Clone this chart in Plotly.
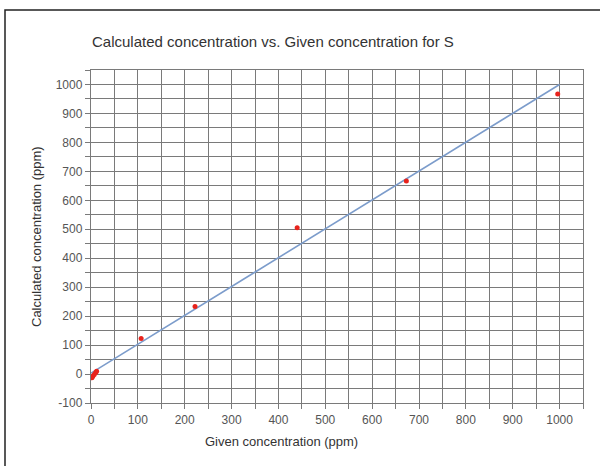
import plotly.graph_objects as go

# Data
given = [2, 4, 7, 10, 12, 107, 222, 440, 673, 996]
calculated = [-13, -8, -2, 5, 10, 123, 233, 505, 667, 967]
fit_x = [0, 1000]
fit_y = [3, 1000]

x_tick_vals = [0, 100, 200, 300, 400, 500, 600, 700, 800, 900, 1000]
x_tick_text = ["0", "100", "200", "300", "400", "500", "600", "700", "800", "900", "1000"]
y_tick_vals = [-100, 0, 100, 200, 300, 400, 500, 600, 700, 800, 900, 1000]
y_tick_text = ["-100", "0", "100", "200", "300", "400", "500", "600", "700", "800", "900", "1000"]

title_text = "Calculated concentration vs. Given concentration for S"
x_title = "Given concentration (ppm)"
y_title = "Calculated concentration (ppm)"

W, H = 600, 466
L, R, T, B = 91, 17, 70, 63
pw, ph = W - L - R, H - T - B

def px(x):
    return (x - L) / pw

def py(y):
    return (H - B - y) / ph

grid_col = "#7a7a7a"
gw = 1.4

fig = go.Figure()
fig.add_trace(go.Scatter(x=fit_x, y=fit_y, mode="lines",
                         line=dict(color="#7c9ccb", width=1.6),
                         hoverinfo="skip", showlegend=False))
fig.add_trace(go.Scatter(x=given, y=calculated, mode="markers",
                         marker=dict(color="#e8231c", size=5),
                         showlegend=False))

axis_common = dict(
    showline=True, linecolor=grid_col, linewidth=gw, mirror=True,
    showgrid=True, gridcolor=grid_col, gridwidth=gw,
    zeroline=False, ticks="outside", ticklen=5, tickcolor=grid_col, tickwidth=gw,
    tickfont=dict(family="Liberation Sans, Arial", size=12, color="#555555"),
    tickmode="array", automargin=False,
)
minor = dict(dtick=50, tick0=0, showgrid=True, gridcolor=grid_col, gridwidth=gw,
             ticks="outside", ticklen=5, tickcolor=grid_col, tickwidth=gw)
fig.update_xaxes(range=[0, 1050], tickvals=x_tick_vals, ticktext=x_tick_text,
                 minor=minor, **axis_common)
fig.update_yaxes(range=[-100, 1050], tickvals=y_tick_vals, ticktext=y_tick_text,
                 minor=minor, **axis_common)

fig.update_layout(
    width=W, height=H,
    margin=dict(l=L, r=R, t=T, b=B, autoexpand=False),
    paper_bgcolor="white", plot_bgcolor="white",
    font=dict(family="Liberation Sans, Arial", color="#333333"),
    annotations=[
        dict(text=title_text, x=px(273), y=py(42), xref="paper", yref="paper",
             showarrow=False, xanchor="center", yanchor="middle",
             font=dict(size=15, color="#333333")),
        dict(text=x_title, x=px(281), y=py(441), xref="paper", yref="paper",
             showarrow=False, xanchor="center", yanchor="middle",
             font=dict(size=13, color="#333333")),
        dict(text=y_title, x=px(36), y=py(237), xref="paper", yref="paper",
             showarrow=False, xanchor="center", yanchor="middle", textangle=-90,
             font=dict(size=13, color="#333333")),
    ],
    shapes=[
        dict(type="rect", xref="paper", yref="paper",
             x0=px(5), x1=px(640), y0=py(520), y1=py(10),
             line=dict(color="#222222", width=1.5), layer="above"),
    ],
)

fig.write_html("out.html", config={"displayModeBar": False},
               post_script="document.body.style.margin='0';document.body.style.overflow='hidden';")
